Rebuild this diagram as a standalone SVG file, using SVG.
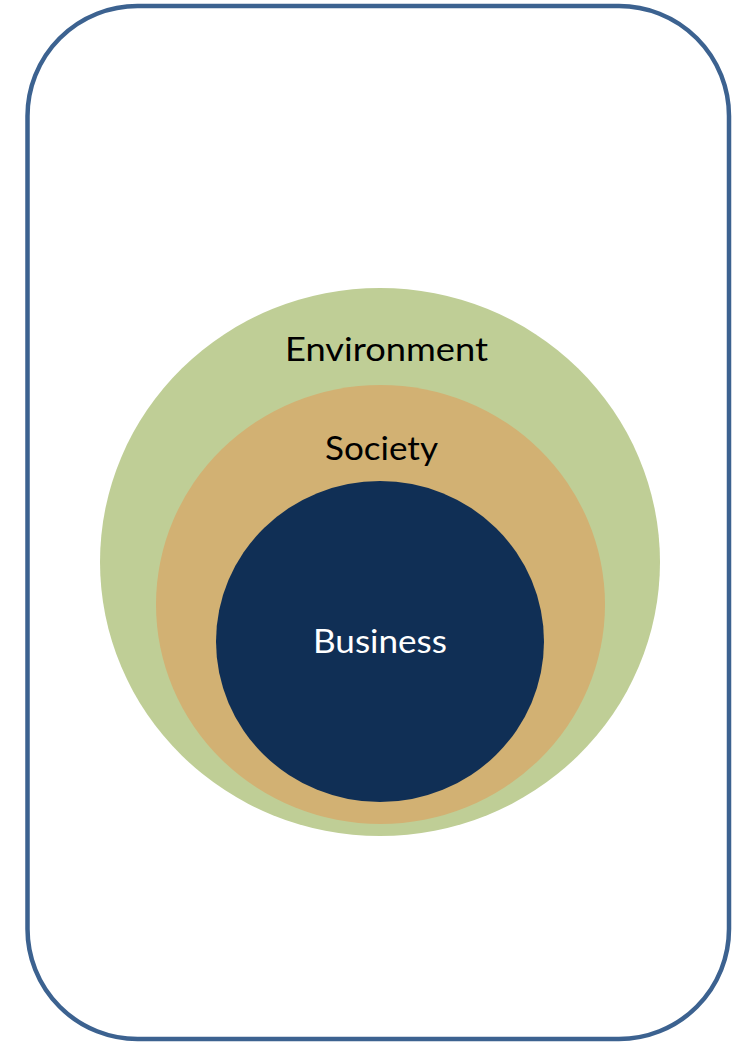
<svg xmlns="http://www.w3.org/2000/svg" width="749" height="1042" viewBox="0 0 749 1042">
<style>
.lbl{font-family:Lato,"Open Sans","Liberation Sans",sans-serif;font-size:32px;text-anchor:middle}
</style>
<rect x="0" y="0" width="749" height="1042" fill="#ffffff"/>
<g id="frame"><rect x="27.5" y="6" width="701.5" height="1033" rx="110" ry="110" fill="#ffffff" stroke="#3c6290" stroke-width="4.5"/></g>
<g id="environment">
<ellipse cx="380" cy="562" rx="280" ry="274" fill="#bfce96"/>
<text class="lbl" x="386.5" y="361" fill="#000000" textLength="203" lengthAdjust="spacingAndGlyphs">Environment</text>
</g>
<g id="society">
<ellipse cx="380.5" cy="604.5" rx="224.5" ry="219.5" fill="#d2b173"/>
<text class="lbl" x="381.5" y="460" fill="#000000" textLength="113" lengthAdjust="spacingAndGlyphs">Society</text>
</g>
<g id="business">
<ellipse cx="380" cy="641.5" rx="164" ry="160.5" fill="#102f55"/>
<text class="lbl" x="380" y="653" fill="#ffffff" textLength="134" lengthAdjust="spacingAndGlyphs">Business</text>
</g>
<g id="connectors"></g>
</svg>
